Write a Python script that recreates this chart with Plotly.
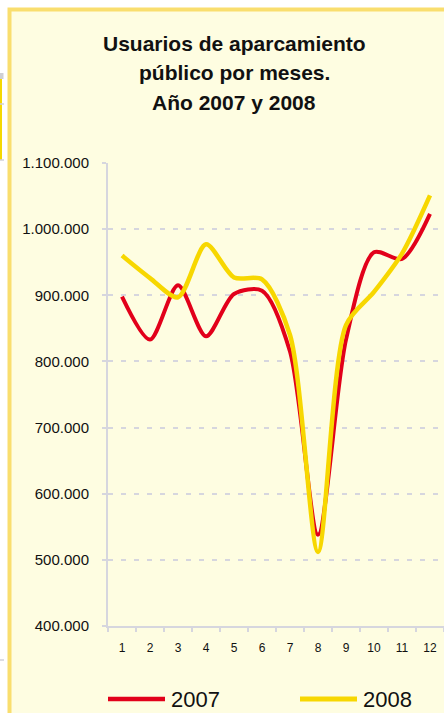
import plotly.graph_objects as go

W, H = 444, 713

meses = ["1", "2", "3", "4", "5", "6", "7", "8", "9", "10", "11", "12"]
usuarios_2007 = [898000, 833000, 915000, 838000, 902000, 907000, 815000, 538000, 833000, 965000, 955000, 1023000]
usuarios_2008 = [960000, 926000, 897000, 977000, 927000, 924000, 840000, 512000, 855000, 905000, 963000, 1051000]
y_ticks = [400000, 500000, 600000, 700000, 800000, 900000, 1000000, 1100000]
y_labels = ["400.000", "500.000", "600.000", "700.000", "800.000", "900.000", "1.000.000", "1.100.000"]
titulo = ["Usuarios de aparcamiento", "público por meses.", "Año 2007 y 2008"]

RED = "#E2001A"
YELLOW = "#F7D700"
CREAM = "#FEFDE1"
BORDER = "#F9DE6E"
GRID = "#D6D6DE"
FONT = "Liberation Sans, Arial, sans-serif"

# plot area in pixels
L, R, T, B = 108, 444, 163, 626


def px_x(p):
    return (p - L) / (R - L)


def px_y(p):
    return (B - p) / (B - T)


series = [("2007", usuarios_2007, RED, 4), ("2008", usuarios_2008, YELLOW, 4.5)]

fig = go.Figure()
for name, vals, color, width in series:
    fig.add_trace(go.Scatter(x=meses, y=vals, name=name, mode="lines", showlegend=False,
                             line=dict(color=color, width=width, shape="spline", smoothing=0.8)))

shapes = [
    # yellow-bordered cream panel
    dict(type="rect", xref="paper", yref="paper", layer="below",
         x0=px_x(9.5), x1=px_x(470), y0=px_y(740), y1=px_y(9.5),
         fillcolor=CREAM, line=dict(color=BORDER, width=4)),
    # fragments of the neighbouring panel at the left edge
    dict(type="rect", xref="paper", yref="paper", layer="below",
         x0=px_x(0), x1=px_x(3.5), y0=px_y(79), y1=px_y(73),
         fillcolor="#CFCFD4", line=dict(width=0)),
    dict(type="line", xref="paper", yref="paper", layer="below",
         x0=px_x(1), x1=px_x(1), y0=px_y(160), y1=px_y(79),
         line=dict(color="#F5D800", width=2)),
    dict(type="line", xref="paper", yref="paper", layer="below",
         x0=px_x(0), x1=px_x(4), y0=px_y(104), y1=px_y(104),
         line=dict(color="#D0D0D8", width=1.5)),
    dict(type="line", xref="paper", yref="paper", layer="below",
         x0=px_x(0), x1=px_x(4), y0=px_y(160), y1=px_y(160),
         line=dict(color="#D0D0D8", width=1.5)),
    dict(type="line", xref="paper", yref="paper", layer="below",
         x0=px_x(0), x1=px_x(4), y0=px_y(660), y1=px_y(660),
         line=dict(color="#D0D0D8", width=1.5)),
]

annotations = []
for i, linea in enumerate(titulo):
    annotations.append(dict(text="<b>" + linea + "</b>", xref="paper", yref="paper",
                            x=px_x(234), y=px_y(43 + 30 * i), xanchor="center", yanchor="middle",
                            showarrow=False, font=dict(family=FONT, size=21, color="#111111")))

# legend drawn by hand so the line samples match the original length
legend_x = [108, 300]
for (name, vals, color, width), lx in zip(series, legend_x):
    shapes.append(dict(type="line", xref="paper", yref="paper",
                       x0=px_x(lx), x1=px_x(lx + 57), y0=px_y(699), y1=px_y(699),
                       line=dict(color=color, width=width + 0.5)))
    annotations.append(dict(text=name, xref="paper", yref="paper", x=px_x(lx + 61), y=px_y(699),
                            xanchor="left", yanchor="middle", showarrow=False,
                            font=dict(family=FONT, size=22, color="#111111")))

fig.update_layout(
    width=W, height=H,
    margin=dict(l=L, r=W - R, t=T, b=H - B, pad=0),
    paper_bgcolor="white",
    plot_bgcolor="rgba(0,0,0,0)",
    font=dict(family=FONT, color="#1a1a1a"),
    shapes=shapes,
    annotations=annotations,
    showlegend=False,
)

fig.update_xaxes(type="category", range=[-0.5, 11.5], tickson="boundaries",
                 showgrid=False, zeroline=False, showline=True, linecolor=GRID, linewidth=2,
                 ticks="outside", ticklen=4, tickcolor=GRID, tickwidth=1.5, ticklabelstandoff=10,
                 tickfont=dict(size=12, color="#111111"), fixedrange=True)
fig.update_yaxes(range=[400000, 1100000], tickmode="array", tickvals=y_ticks, ticktext=y_labels,
                 showgrid=True, gridcolor=GRID, gridwidth=2, griddash="5px,8px",
                 zeroline=False, showline=True, linecolor=GRID, linewidth=2,
                 ticks="outside", ticklen=4, tickcolor=GRID, tickwidth=1.5, ticklabelstandoff=10,
                 tickfont=dict(size=15, color="#111111"), fixedrange=True)

fig.write_html("out.html", config={"displayModeBar": False},
               post_script="document.body.style.margin='0';document.body.style.overflow='hidden';")
